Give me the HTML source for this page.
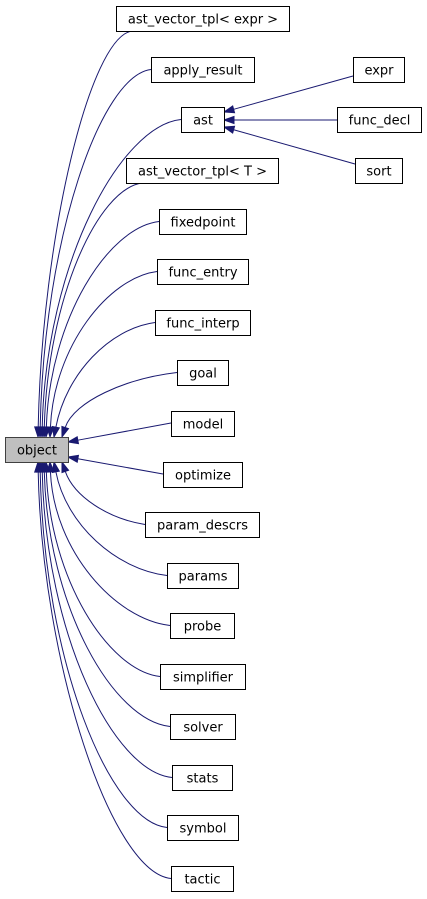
<!DOCTYPE html>
<html><head><meta charset="utf-8"><style>
html,body{margin:0;padding:0;background:#fff;}
svg{display:block;}
text{font-family:"DejaVu Sans","Liberation Sans",sans-serif;font-size:13px;fill:#000;}
</style></head><body>
<svg id="g" width="427" height="899" viewBox="0 0 427 899" xmlns="http://www.w3.org/2000/svg">
<g id="edges" stroke="#191970" fill="none" stroke-width="1"></g>
<g id="heads" fill="#191970" stroke="#191970"></g>
<g id="nodes"></g>
</svg>
<script>
var NS="http://www.w3.org/2000/svg";
function el(t,a,p){var e=document.createElementNS(NS,t);for(var k in a)e.setAttribute(k,a[k]);document.getElementById(p).appendChild(e);return e;}
var nodes=[
["ast_vector_tpl< expr >",116,289,6],
["apply_result",151,254,57],
["ast",181,224,107],
["ast_vector_tpl< T >",126,278,158],
["fixedpoint",159,246,209],
["func_entry",157,248,259],
["func_interp",155,250,310],
["goal",177,228,360],
["model",171,234,411],
["optimize",163,242,462],
["param_descrs",145,259,512],
["params",167,238,563],
["probe",170,234,613],
["simplifier",160,245,664],
["solver",170,235,714],
["stats",172,232,765],
["symbol",167,238,815],
["tactic",171,233,866],
["expr",353,404,57],
["func_decl",337,421,107],
["sort",355,402,158],
["object",5,68,437]
];
function head(tx,ty,bx,by){
  var dx=tx-bx,dy=ty-by,l=Math.sqrt(dx*dx+dy*dy);var px=-dy/l*3.5,py=dx/l*3.5;
  el("polygon",{points:tx+","+ty+" "+(bx+px)+","+(by+py)+" "+(bx-px)+","+(by-py)},"heads");
}
function curve(sx,sy,tx,ty,up){
  var dir=up?-1:1;
  var dist=Math.abs(sy-ty);
  var c1x=sx-Math.min(60,(sx-tx)*0.45), c1y=sy+ (up?6:-6);
  var c2x=tx+ (dist>150?4:12), c2y=ty+dir*Math.min(dist*0.55,200);
  var dx=tx-c2x,dy=ty-c2y,l=Math.sqrt(dx*dx+dy*dy);
  var bx=tx-dx/l*10,by=ty-dy/l*10;
  el("path",{d:"M"+sx+","+sy+" C"+c1x+","+c1y+" "+c2x+","+c2y+" "+bx+","+by},"edges");
  head(tx,ty,bx,by);
}
function line(sx,sy,tx,ty){
  var dx=tx-sx,dy=ty-sy,l=Math.sqrt(dx*dx+dy*dy);var bx=tx-dx/l*10,by=ty-dy/l*10;
  el("path",{d:"M"+sx+","+sy+" L"+bx+","+by},"edges");head(tx,ty,bx,by);
}
var tipTop={0:38,1:40,2:42,3:44,4:46,5:50,6:54,7:62};
var tipBot={17:38,16:40,15:42,14:44,13:46,12:50,11:54,10:62};
for(var i in tipTop){var n=nodes[i];var sx=(i==0||i==3)?n[1]+16:n[1];var sy=(i==0||i==3)?n[3]+25:n[3]+12.5;curve(sx,sy,tipTop[i],437,true);}
for(var i in tipBot){var n=nodes[i];curve(n[1],n[3]+12.5,tipBot[i],462,false);}
line(171,423,68,442);line(163,474,68,457);
line(353,76,224,112);line(337,120,224,120);line(355,164,224,127);
nodes.forEach(function(n){
  var w=n[2]-n[1];
  el("rect",{x:n[1]+0.5,y:n[3]+0.5,width:w,height:25,fill:n[0]=="object"?"#bfbfbf":"#fff",stroke:n[0]=="object"?"#404040":"#000","stroke-width":1},"nodes");
  var t=el("text",{x:n[1]+w/2+0.5,y:n[3]+17.5,"text-anchor":"middle"},"nodes");t.textContent=n[0];
});
</script>
</body></html>
